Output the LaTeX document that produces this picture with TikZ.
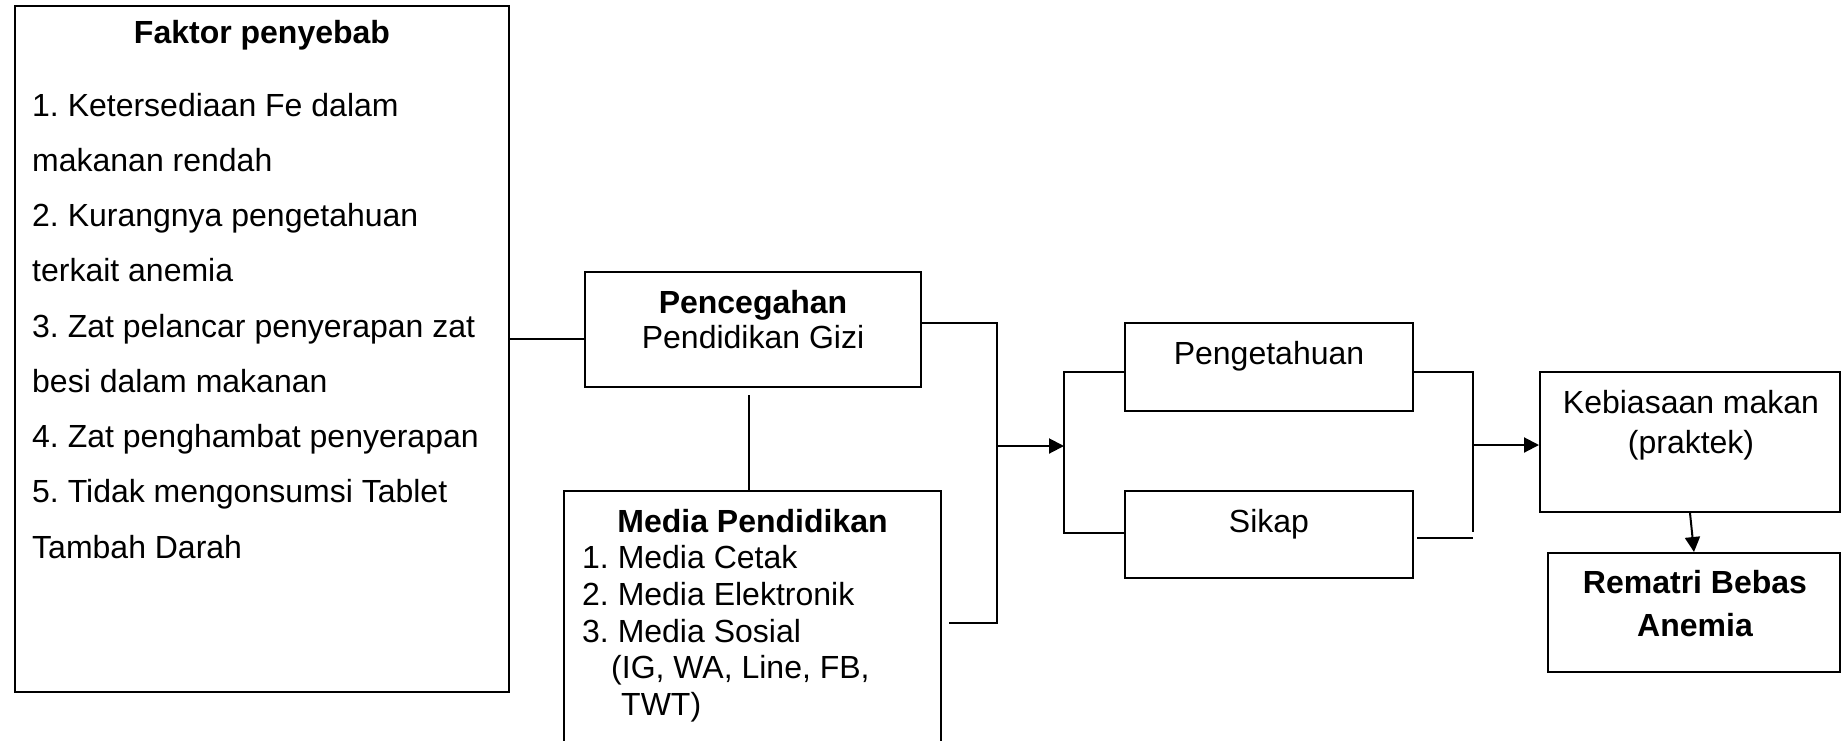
\documentclass[tikz,border=0pt]{standalone}
\usepackage{fontspec}
\setmainfont{Liberation Sans}
\usetikzlibrary{arrows.meta}
\frenchspacing
\begin{document}
\begin{tikzpicture}[x=1pt,y=-1pt,
  box/.style={draw=black, line width=2pt, rectangle, inner sep=0pt},
  txt/.style={inner sep=0pt, font=\fontsize{32}{38}\selectfont},
  btxt/.style={inner sep=0pt, font=\fontsize{32}{38}\selectfont\bfseries},
  wire/.style={line width=2pt, draw=black},
  arr/.style={wire, -{Triangle[length=15pt,width=15pt]}}]

\useasboundingbox (0,0) rectangle (1841,740);
\fill[white] (0,0) rectangle (1841,740);
\clip (0,0) rectangle (1841,740);

% boxes
\node[box, minimum width=494pt, minimum height=686pt] (faktor) at (262,349) {};
\node[box, minimum width=336pt, minimum height=115pt] (cegah) at (753,329.5) {};
\node[box, minimum width=377pt, minimum height=264pt] (media) at (752.5,623) {};
\node[box, minimum width=288pt, minimum height=88pt] (tahu) at (1269,367) {};
\node[box, minimum width=288pt, minimum height=87pt] (sikap) at (1269,534.5) {};
\node[box, minimum width=300pt, minimum height=140pt] (keb) at (1690,442) {};
\node[box, minimum width=292pt, minimum height=119pt] (rematri) at (1694,612.5) {};

% causes
\node[btxt, anchor=base] (faktorT) at (262,43) {Faktor penyebab};
\foreach \t [count=\i from 0] in {%
  {1. Ketersediaan Fe dalam},
  {makanan rendah},
  {2. Kurangnya pengetahuan},
  {terkait anemia},
  {3. Zat pelancar penyerapan zat},
  {besi dalam makanan},
  {4. Zat penghambat penyerapan},
  {5. Tidak mengonsumsi Tablet},
  {Tambah Darah}}
  \node[txt, anchor=base west] (fl\i) at (32,{116+55.25*\i}) {\t};

% prevention
\node[btxt, anchor=base] (cegahT) at (753,313) {Pencegahan};
\node[txt, anchor=base] (cegahS) at (753,348) {Pendidikan Gizi};

% education media
\node[btxt, anchor=base] (mediaT) at (752.5,532) {Media Pendidikan};
\node[txt, anchor=base west] (m1) at (582,568.5) {1. Media Cetak};
\node[txt, anchor=base west] (m2) at (582,605) {2. Media Elektronik};
\node[txt, anchor=base west] (m3) at (582,642) {3. Media Sosial};
\node[txt, anchor=base west] (m4) at (611,678) {(IG, WA, Line, FB,};
\node[txt, anchor=base west] (m5) at (621,715) {TWT)};

% outcomes
\node[txt, anchor=base] (tahuT) at (1269,364) {Pengetahuan};
\node[txt, anchor=base] (sikapT) at (1269,532) {Sikap};
\node[txt, anchor=base] (kebT1) at (1691,413) {Kebiasaan makan};
\node[txt, anchor=base] (kebT2) at (1691,453) {(praktek)};
\node[btxt, anchor=base] (remT1) at (1695,593) {Rematri Bebas};
\node[btxt, anchor=base] (remT2) at (1695,636) {Anemia};

% connectors
\coordinate (cW) at ([yshift=-9.5pt]cegah.west);
\draw[wire] (faktor.east |- cW) -- (cW);

\coordinate (cS) at ([xshift=-4pt,yshift=-7pt]cegah.south);
\draw[wire] (cS) -- (cS |- media.north);

\coordinate (jL) at (997,446);
\coordinate (cE) at ([yshift=6.5pt]cegah.east);
\coordinate (mE) at ([xshift=7pt]media.east);
\draw[wire] (cE) -| (jL) |- (mE);

\coordinate (bL) at (1064,446);
\draw[arr] (jL) -- (bL);
\coordinate (tW) at ([yshift=-5pt]tahu.west);
\coordinate (sW) at ([yshift=1.5pt]sikap.west);
\draw[wire] (tW) -| (bL) |- (sW);

\coordinate (tE) at ([yshift=-5pt]tahu.east);
\coordinate (bRend) at (1473,532);
\draw[wire] (tE) -| (bRend);
\coordinate (sE) at ([xshift=3pt,yshift=-3.5pt]sikap.east);
\draw[wire] (sE) -- (sE -| bRend);

\coordinate (bR) at (1473,445);
\draw[arr] (bR) -- (bR -| keb.west);
\draw[arr] (keb.south) -- (rematri.north);
\end{tikzpicture}
\end{document}
